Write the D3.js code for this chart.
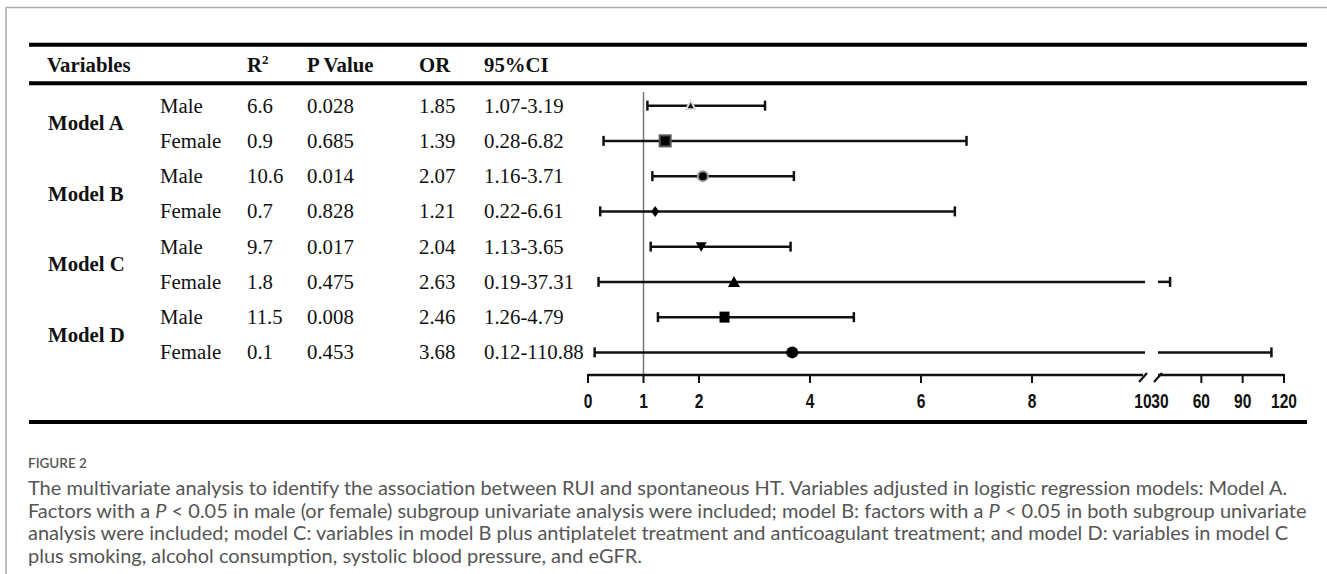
<!DOCTYPE html>
<html>
<head>
<meta charset="utf-8">
<script src="https://cdn.jsdelivr.net/npm/d3@7/dist/d3.min.js"></script>
<style>
  html, body { margin: 0; padding: 0; background: #fff; }
  svg { display: block; }
</style>
</head>
<body>
<svg id="chart" width="1327" height="574"></svg>
<script>
// ---------------- DATA ----------------
const models = ["Model A", "Model B", "Model C", "Model D"];
const sexes = ["Male", "Female", "Male", "Female", "Male", "Female", "Male", "Female"];
const r2Values = ["6.6", "0.9", "10.6", "0.7", "9.7", "1.8", "11.5", "0.1"];
const pValues = ["0.028", "0.685", "0.014", "0.828", "0.017", "0.475", "0.008", "0.453"];
const orValues = [1.85, 1.39, 2.07, 1.21, 2.04, 2.63, 2.46, 3.68];
const ciLow = [1.07, 0.28, 1.16, 0.22, 1.13, 0.19, 1.26, 0.12];
const ciHigh = [3.19, 6.82, 3.71, 6.61, 3.65, 37.31, 4.79, 110.88];
const ciLabels = ["1.07-3.19", "0.28-6.82", "1.16-3.71", "0.22-6.61", "1.13-3.65", "0.19-37.31", "1.26-4.79", "0.12-110.88"];
const markerTypes = ["smallTriangle", "graySquare", "grayCircle", "diamond", "triangleDown", "triangle", "square", "circle"];
const headers = ["Variables", "R", "P Value", "OR", "95%CI"];
const leftTicks = [0, 1, 2, 4, 6, 8, 10];
const rightTicks = [30, 60, 90, 120];
const figureLabel = "FIGURE 2";
const captionLines = [
  [{t: "The multivariate analysis to identify the association between RUI and spontaneous HT. Variables adjusted in logistic regression models: Model A."}],
  [{t: "Factors with a "}, {t: "P", i: true}, {t: " < 0.05 in male (or female) subgroup univariate analysis were included; model B: factors with a "}, {t: "P", i: true}, {t: " < 0.05 in both subgroup univariate"}],
  [{t: "analysis were included; model C: variables in model B plus antiplatelet treatment and anticoagulant treatment; and model D: variables in model C"}],
  [{t: "plus smoking, alcohol consumption, systolic blood pressure, and eGFR."}]
];

// ---------------- LAYOUT ----------------
const svg = d3.select("#chart");
const serif = "'Liberation Serif', 'Times New Roman', serif";
const sans = "'Liberation Sans', Arial, sans-serif";
const capFont = "Lato, 'Open Sans', sans-serif";

const xL = d3.scaleLinear().domain([0, 10]).range([588, 1143]);
const xR = d3.scaleLinear().domain([30, 120]).range([1160, 1284]);
const y = d3.scaleBand().domain(d3.range(8)).range([88, 370]);
const yc = i => y(i) + y.bandwidth() / 2;
const axisY = 375;

// frame
svg.append("line").attr("x1", 6).attr("x2", 1327).attr("y1", 7.5).attr("y2", 7.5)
  .attr("stroke", "#aaa").attr("stroke-width", 1.5);
svg.append("line").attr("x1", 6).attr("x2", 6).attr("y1", 7.5).attr("y2", 574)
  .attr("stroke", "#aaa").attr("stroke-width", 1.5);

// thick rules
[44.7, 83.3, 422].forEach(yy => {
  svg.append("line").attr("x1", 29).attr("x2", 1307).attr("y1", yy).attr("y2", yy)
    .attr("stroke", "#000").attr("stroke-width", 4);
});

// header
const headX = [47, 247, 307, 419, 484];
const hdr = svg.append("g").attr("font-family", serif).attr("font-weight", "bold")
  .attr("font-size", 20.8).attr("fill", "#111");
headers.forEach((h, k) => {
  const t = hdr.append("text").attr("x", headX[k]).attr("y", 72).text(h);
  if (h === "R") t.append("tspan").attr("font-size", 13).attr("dy", -8).text("2");
});

// model labels
const body = svg.append("g").attr("font-family", serif).attr("font-size", 20.8).attr("fill", "#111");
models.forEach((m, k) => {
  body.append("text").attr("x", 48).attr("y", (yc(2 * k) + yc(2 * k + 1)) / 2 + 7)
    .attr("font-weight", "bold").text(m);
});
// row texts
const cols = [
  {x: 160, v: sexes},
  {x: 247, v: r2Values},
  {x: 307, v: pValues},
  {x: 419, v: orValues.map(d => d.toFixed(2))},
  {x: 484, v: ciLabels}
];
cols.forEach(c => {
  body.selectAll(null).data(c.v).enter().append("text")
    .attr("x", c.x).attr("y", (d, i) => yc(i) + 7).text(d => d);
});

// reference line at OR = 1
svg.append("line").attr("x1", xL(1)).attr("x2", xL(1)).attr("y1", 92).attr("y2", axisY)
  .attr("stroke", "#777").attr("stroke-width", 1.5);

// axis (broken)
const ax = svg.append("g");
ax.append("line").attr("x1", xL(0)).attr("x2", xL(10)).attr("y1", axisY).attr("y2", axisY)
  .attr("stroke", "#111").attr("stroke-width", 2.5);
ax.append("line").attr("x1", xR(30) - 2).attr("x2", xR(120)).attr("y1", axisY).attr("y2", axisY)
  .attr("stroke", "#111").attr("stroke-width", 2.5);
ax.selectAll(null).data(leftTicks.filter(d => d < 10)).enter().append("line")
  .attr("x1", d => xL(d)).attr("x2", d => xL(d)).attr("y1", axisY - 1).attr("y2", axisY + 8)
  .attr("stroke", "#111").attr("stroke-width", 2);
ax.selectAll(null).data(rightTicks.filter(d => d > 30)).enter().append("line")
  .attr("x1", d => xR(d)).attr("x2", d => xR(d)).attr("y1", axisY - 1).attr("y2", axisY + 8)
  .attr("stroke", "#111").attr("stroke-width", 2);
// break slashes
[xL(10), xR(30) - 2].forEach(bx => {
  ax.append("line").attr("x1", bx - 4).attr("x2", bx + 4).attr("y1", axisY + 7).attr("y2", axisY - 2)
    .attr("stroke", "#111").attr("stroke-width", 2.2);
});
// tick labels
const tickLab = svg.append("g").attr("font-family", sans).attr("font-weight", "bold")
  .attr("font-size", 20.5).attr("fill", "#111").attr("text-anchor", "middle");
leftTicks.forEach(d => {
  tickLab.append("text").attr("transform", `translate(${xL(d)},408) scale(0.76,1)`).text(d);
});
rightTicks.forEach(d => {
  tickLab.append("text").attr("transform", `translate(${xR(d)},408) scale(0.76,1)`).text(d);
});

// CI lines
const ci = svg.append("g").attr("stroke", "#111").attr("stroke-width", 2.5).attr("fill", "none");
orValues.forEach((o, i) => {
  const cy = yc(i);
  const lo = ciLow[i], hi = ciHigh[i];
  ci.append("line").attr("x1", xL(lo)).attr("y1", cy).attr("y2", cy)
    .attr("x2", hi <= 10 ? xL(hi) : xL(10) + 2);
  ci.append("line").attr("x1", xL(lo)).attr("x2", xL(lo)).attr("y1", cy - 5).attr("y2", cy + 5);
  if (hi <= 10) {
    ci.append("line").attr("x1", xL(hi)).attr("x2", xL(hi)).attr("y1", cy - 5).attr("y2", cy + 5);
  } else {
    ci.append("line").attr("x1", xR(30) - 2).attr("x2", xR(hi)).attr("y1", cy).attr("y2", cy);
    ci.append("line").attr("x1", xR(hi)).attr("x2", xR(hi)).attr("y1", cy - 5).attr("y2", cy + 5);
  }
});

// markers
const mk = svg.append("g");
orValues.forEach((o, i) => {
  const cx = xL(o), cy = yc(i), t = markerTypes[i];
  const g = mk.append("g").attr("transform", `translate(${cx},${cy})`);
  if (t === "smallTriangle") {
    g.append("path").attr("d", "M0,-5L4.5,3.5L-4.5,3.5Z").attr("fill", "#111")
      .attr("stroke", "#ddd").attr("stroke-width", 2);
  } else if (t === "graySquare") {
    g.append("rect").attr("x", -5.5).attr("y", -5.5).attr("width", 11).attr("height", 11)
      .attr("fill", "#000").attr("stroke", "#555").attr("stroke-width", 2);
  } else if (t === "grayCircle") {
    g.append("circle").attr("r", 5).attr("fill", "#000").attr("stroke", "#999").attr("stroke-width", 2);
  } else if (t === "diamond") {
    g.append("path").attr("d", "M0,-5.5L4,0L0,5.5L-4,0Z").attr("fill", "#000");
  } else if (t === "triangleDown") {
    g.append("path").attr("d", "M-5.5,-4.5L5.5,-4.5L0,5Z").attr("fill", "#000");
  } else if (t === "triangle") {
    g.append("path").attr("d", "M0,-6L6,5L-6,5Z").attr("fill", "#000");
  } else if (t === "square") {
    g.append("rect").attr("x", -5).attr("y", -5.5).attr("width", 10).attr("height", 11).attr("fill", "#000");
  } else if (t === "circle") {
    g.append("circle").attr("r", 6).attr("fill", "#000");
  }
});

// caption
svg.append("text").attr("x", 28).attr("y", 468).attr("font-family", capFont)
  .attr("font-size", 13.5).attr("font-weight", 600).attr("fill", "#555").text(figureLabel);
const cap = svg.append("g").attr("font-family", capFont).attr("fill", "#555");
const capTexts = captionLines.map((segs, k) => {
  const t = cap.append("text").attr("x", 28).attr("y", 495 + k * 22.5).attr("font-size", 16);
  segs.forEach(s => {
    const ts = t.append("tspan").text(s.t);
    if (s.i) ts.attr("font-style", "italic");
  });
  return t;
});
// fit font size so the first line spans the same width as the reference
const w0 = capTexts[0].node().getComputedTextLength();
const fs = 16 * 1260 / w0;
capTexts.forEach(t => t.attr("font-size", fs));
</script>
</body>
</html>
